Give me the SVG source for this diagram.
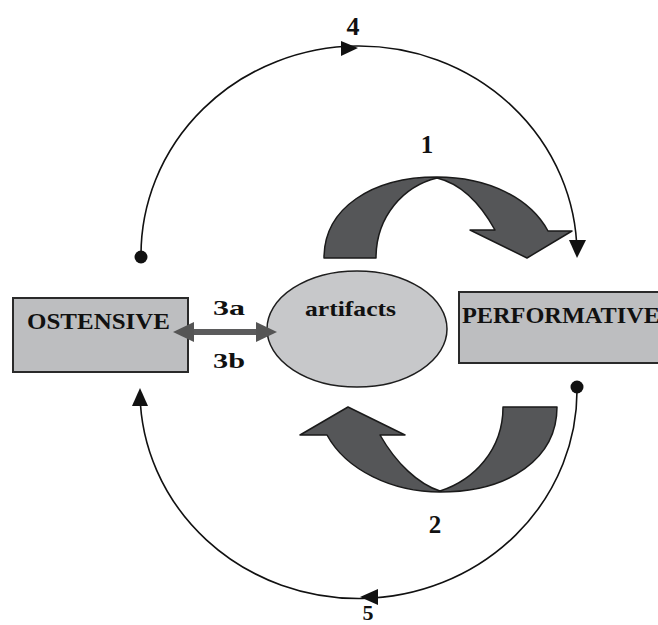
<svg xmlns="http://www.w3.org/2000/svg" width="658" height="625" viewBox="0 0 658 625">
<style>
.box{fill:#bdbec0;stroke:#2a2a2a;stroke-width:2}
.ell{fill:#c7c8ca;stroke:#1e1e1e;stroke-width:1.5}
.big{fill:#555658;stroke:#1a1a1a;stroke-width:1.5;stroke-linejoin:round}
.arc{fill:none;stroke:#111;stroke-width:1.6}
.head{fill:#111}
.lbl{font-family:"Liberation Serif","Times New Roman",serif;font-weight:bold;fill:#111}
</style>
<rect width="658" height="625" fill="#fff"/>

<g id="arrow1">
  <path class="big" d="M324,258 C324,208 372,177 437,177 C488,177 530,198 548,231 L572,231 L527,258 L470,230 L495,230 C480,203 462,184 437,178 C404,186 376,216 376,258 Z"/>
  <text class="lbl" x="427" y="153" font-size="25" text-anchor="middle">1</text>
</g>

<g id="arrow2">
  <path class="big" d="M557,407 C557,458 510,492 440,492 C392,492 346,470 327,435 L300,435 L348,407 L405,435 L380,435 C396,463 418,484 440,491 C474,480 503,450 503,407 Z"/>
  <text class="lbl" x="435" y="533" font-size="25" text-anchor="middle">2</text>
</g>

<g id="label4"><text class="lbl" x="353" y="35" font-size="26" text-anchor="middle">4</text></g>
<g id="label5"><text class="lbl" x="368" y="620" font-size="22" text-anchor="middle">5</text></g>

<g id="ostensive">
  <rect class="box" x="13" y="298" width="175" height="74"/>
  <text class="lbl" x="27" y="329" font-size="24" textLength="143" lengthAdjust="spacingAndGlyphs">OSTENSIVE</text>
</g>

<g id="label3">
  <text class="lbl" x="213" y="315" font-size="22" textLength="32" lengthAdjust="spacingAndGlyphs">3a</text>
  <text class="lbl" x="213" y="368" font-size="22" textLength="32" lengthAdjust="spacingAndGlyphs">3b</text>
</g>

<g id="artifacts">
  <ellipse class="ell" cx="357" cy="329" rx="90" ry="58"/>
  <text class="lbl" x="305" y="316" font-size="22" textLength="91" lengthAdjust="spacingAndGlyphs">artifacts</text>
</g>

<g id="performative">
  <rect class="box" x="459" y="292" width="215" height="71"/>
  <text class="lbl" x="462" y="323" font-size="24" textLength="198" lengthAdjust="spacingAndGlyphs">PERFORMATIVE</text>
</g>

<g id="connectors">
  <path class="arc" d="M141,257 A218,209 0 0 1 577,253"/>
  <polygon class="head" points="341,41 358,48 341,56"/>
  <polygon class="head" points="569,240 586,240 577,258"/>
  <circle cx="141" cy="257" r="6.5" fill="#111"/>

  <path class="arc" d="M577,387 A218.5,208 0 0 1 140,394"/>
  <polygon class="head" points="378,589 360,597 378,605"/>
  <polygon class="head" points="132,406 148,406 140,388"/>
  <circle cx="577" cy="387" r="6.5" fill="#111"/>

  <g id="double-arrow">
    <rect x="190" y="329" width="70" height="6" fill="#5b5b5c"/>
    <polygon points="173,332 194,322 194,342" fill="#555"/>
    <polygon points="277,332 256,322 256,342" fill="#555"/>
  </g>
</g>
</svg>
